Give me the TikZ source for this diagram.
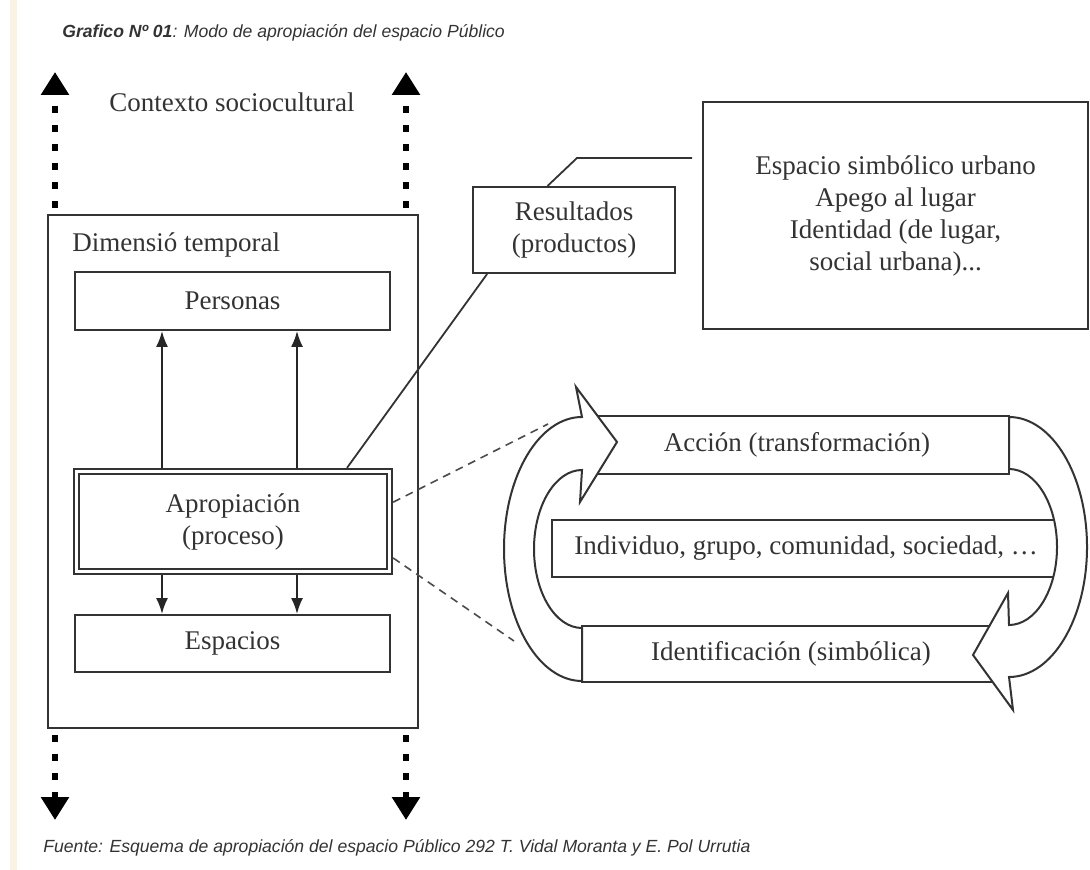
\documentclass[tikz,border=0pt]{standalone}
\usepackage{fontspec}
\setmainfont{Liberation Serif}
\newfontfamily\capfont{Liberation Sans}
\usetikzlibrary{arrows.meta, calc, positioning}

\definecolor{scanstrip}{RGB}{250,242,226}
\tikzstyle{box} = [rectangle, draw=black!80, line width=1pt, text=black!80, align=center, inner sep=0pt]
\tikzstyle{txt} = [text=black!80, inner sep=0pt]
\tikzstyle{arrow} = [draw=black!85, line width=0.9pt, -{Latex[length=8pt,width=6pt]}]
\tikzstyle{ctxarrow} = [line width=3.2pt, dash pattern=on 3.2pt off 6.3pt, dash phase=6.3pt, -{Triangle[width=13.5pt,length=11.5pt]}]
\tikzstyle{joinline} = [draw=black!80, line width=0.9pt]
\tikzstyle{dashlink} = [draw=black!70, line width=0.8pt, dash pattern=on 4pt off 3pt]
\tikzstyle{loopArrow} = [draw=black!80, line width=1pt, fill=white]

\begin{document}
\begin{tikzpicture}[x=0.5pt, y=-0.5pt, font=\fontsize{13.5}{16}\selectfont]
\useasboundingbox (0,0) rectangle (1090,870);
\fill[scanstrip] (10,0) rectangle (17,870);

\node (title) [txt, anchor=west] at (62,33) {\capfont\fontsize{8.8}{10}\selectfont\itshape\textbf{Grafico Nº 01}: Modo de apropiación del espacio Público};

% columna izquierda
\node (dim) [box, minimum width=185pt, minimum height=256.5pt] at (233,471.5) {};
\node (dimlab) [txt, anchor=west] at (72,245) {Dimensió temporal};
\node (ctx) [txt] at (232,102) {Contexto sociocultural};
\node (pers) [box, minimum width=157.5pt, minimum height=29pt] at (232.5,301) {Personas};
\node (apro) [box, double, double distance=1.6pt, line width=1pt, outer sep=1.8pt, minimum width=156.5pt, minimum height=50pt] at (233,521.5) {Apropiación\\(proceso)};
\node (esp) [box, minimum width=157.5pt, minimum height=28.5pt] at (232.5,643.5) {Espacios};

% resultados
\node (res) [box, minimum width=101pt, minimum height=43pt] at (574,230) {Resultados\\(productos)};
\node (simb) [box, minimum width=192.5pt, minimum height=113.5pt] at (895.5,215.5) {Espacio simbólico urbano\\Apego al lugar\\Identidad (de lugar,\\social urbana)...};

% ciclo
\node (acc) [box, minimum width=212pt, minimum height=29pt] at (797,445) {Acción (transformación)};
\node (ind) [box, minimum width=254pt, minimum height=28.5pt] at (806,548.5) {Individuo, grupo, comunidad, sociedad, \ldots};
\node (ide) [box, minimum width=209pt, minimum height=28pt] at (791,654) {Identificación (simbólica)};

\coordinate (xl) at (162,0);
\coordinate (xr) at (297,0);
\draw [arrow] (apro.north -| xl) -- (pers.south -| xl);
\draw [arrow] (apro.north -| xr) -- (pers.south -| xr);
\draw [arrow] (apro.south -| xl) -- (esp.north -| xl);
\draw [arrow] (apro.south -| xr) -- (esp.north -| xr);

\coordinate (tl) at (55,72);
\coordinate (tr) at (406,72);
\coordinate (bl) at (55,820);
\coordinate (br) at (406,820);
\draw [ctxarrow] (dim.north -| tl) -- (tl);
\draw [ctxarrow] (dim.north -| tr) -- (tr);
\draw [ctxarrow] (dim.south -| bl) -- (bl);
\draw [ctxarrow] (dim.south -| br) -- (br);

\coordinate (kink) at (577,158);
\coordinate (lend) at (692,158);
\draw [joinline] ($(apro.north west)!0.856!(apro.north east)$) -- ($(res.south west)!0.074!(res.south east)$);
\draw [joinline] ($(res.north west)!0.37!(res.north east)$) -- (kink) -- (lend);

\coordinate (dtop) at (548,424);
\coordinate (dbot) at (514,641);
\draw [dashlink] ($(apro.north east)!0.32!(apro.south east)$) -- (dtop);
\draw [dashlink] ($(apro.north east)!0.84!(apro.south east)$) -- (dbot);

\draw [loopArrow] (582,417) arc[start angle=90, end angle=270, x radius=39pt, y radius=66pt] -- (582,628)
  arc[start angle=270, end angle=90, x radius=24pt, y radius=39.5pt] -- (580,502) -- (617,442) -- (576,387) -- cycle;
\draw [loopArrow] (1009,417) arc[start angle=90, end angle=-90, x radius=39pt, y radius=65pt] -- (1013,710) -- (973,655) -- (1008,593) -- (1009,625)
  arc[start angle=-90, end angle=90, x radius=24pt, y radius=39pt] -- cycle;

\node (src) [txt, anchor=west] at (43,848) {\capfont\fontsize{8.8}{10}\selectfont\itshape Fuente: Esquema de apropiación del espacio Público 292 T. Vidal Moranta y E. Pol Urrutia};

\end{tikzpicture}
\end{document}
